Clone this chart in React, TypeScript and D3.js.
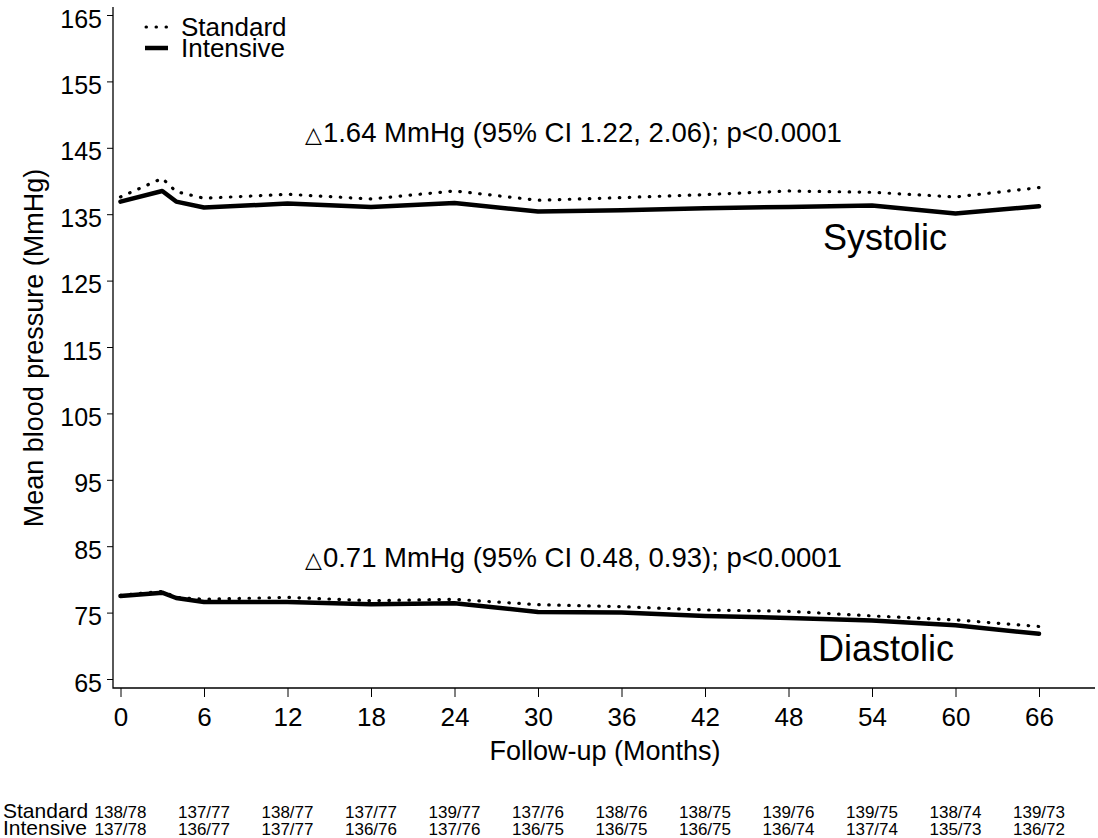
import React, { useRef, useEffect } from 'react';
import * as d3 from 'd3';

// follow-up visits (months) and model-estimated means
const months = [0, 3, 4, 6, 12, 18, 24, 30, 36, 42, 48, 54, 60, 66];
const sbpStandard = [137.6, 140.4, 138.4, 137.4, 138.0, 137.3, 138.5, 137.1, 137.5, 137.95, 138.5, 138.3, 137.6, 139.0];
const sbpIntensive = [136.9, 138.5, 136.9, 136.0, 136.6, 136.1, 136.7, 135.4, 135.6, 135.9, 136.1, 136.3, 135.1, 136.2];
const dbpStandard = [77.6, 78.2, 77.3, 77.0, 77.3, 76.8, 77.0, 76.2, 75.9, 75.4, 75.2, 74.5, 73.9, 72.9];
const dbpIntensive = [77.5, 78.0, 77.2, 76.6, 76.6, 76.25, 76.4, 75.1, 75.0, 74.5, 74.2, 73.8, 73.1, 71.8];

const xTicks = [0, 6, 12, 18, 24, 30, 36, 42, 48, 54, 60, 66];
const yTicks = [65, 75, 85, 95, 105, 115, 125, 135, 145, 155, 165];

// table under the axis
const tableMonths = [0, 6, 12, 18, 24, 30, 36, 42, 48, 54, 60, 66];
const standardTable = ['138/78', '137/77', '138/77', '137/77', '139/77', '137/76', '138/76', '138/75', '139/76', '139/75', '138/74', '139/73'];
const intensiveTable = ['137/78', '136/77', '137/77', '136/76', '137/76', '136/75', '136/75', '136/75', '136/74', '137/74', '135/73', '136/72'];

const FONT = '"Liberation Sans", Arial, Helvetica, sans-serif';

const App = () => {
  const ref = useRef<SVGSVGElement | null>(null);

  useEffect(() => {
    document.body.style.margin = '0';
    if (!ref.current) return;
    const svg = d3.select(ref.current);
    svg.selectAll('*').remove();

    const left = 113, right = 1095, top = 7, bottom = 688;

    const x = d3.scaleLinear().domain([0, 66]).range([120.5, 1039]);
    const y = d3.scaleLinear().domain([65, 165]).range([679, 15]);

    const g = svg.append('g').attr('font-family', FONT);

    // y axis
    const yAxis = g.append('g')
      .attr('transform', `translate(${left},0)`)
      .call(d3.axisLeft(y).tickValues(yTicks).tickSize(6).tickPadding(5).tickFormat(d3.format('d')));
    yAxis.select('.domain').remove();
    yAxis.selectAll('text').attr('font-size', 25).attr('font-family', FONT).attr('dy', '0.48em').attr('fill', '#000');
    yAxis.selectAll('line').attr('stroke', '#000');

    // x axis
    const xAxis = g.append('g')
      .attr('transform', `translate(0,${bottom})`)
      .call(d3.axisBottom(x).tickValues(xTicks).tickSize(9).tickPadding(11).tickFormat(d3.format('d')));
    xAxis.select('.domain').remove();
    xAxis.selectAll('text').attr('font-size', 26).attr('font-family', FONT).attr('fill', '#000');
    xAxis.selectAll('line').attr('stroke', '#000');

    // frame lines (L shape)
    g.append('path')
      .attr('d', `M${left},${top}V${bottom}H${right}`)
      .attr('fill', 'none')
      .attr('stroke', '#000')
      .attr('stroke-width', 1.3);

    const line = d3.line<number>()
      .x((_, i) => x(months[i]))
      .y(d => y(d));

    const drawSeries = (vals: number[], dotted: boolean) => {
      const p = g.append('path')
        .attr('d', line(vals))
        .attr('fill', 'none')
        .attr('stroke', '#000')
        .attr('stroke-linejoin', 'round');
      if (dotted) {
        p.attr('stroke-width', 3.2).attr('stroke-linecap', 'round').attr('stroke-dasharray', '0.5 9.5');
      } else {
        p.attr('stroke-width', 4.5).attr('stroke-linecap', 'round');
      }
    };
    drawSeries(sbpStandard, true);
    drawSeries(sbpIntensive, false);
    drawSeries(dbpStandard, true);
    drawSeries(dbpIntensive, false);

    // legend
    g.append('line').attr('x1', 146).attr('x2', 170).attr('y1', 27).attr('y2', 27)
      .attr('stroke', '#000').attr('stroke-width', 3).attr('stroke-linecap', 'round').attr('stroke-dasharray', '0.5 9.5');
    g.append('line').attr('x1', 145).attr('x2', 168).attr('y1', 48).attr('y2', 48)
      .attr('stroke', '#000').attr('stroke-width', 4.5);
    g.append('text').attr('x', 181).attr('y', 36).attr('font-size', 26).text('Standard');
    g.append('text').attr('x', 181).attr('y', 57).attr('font-size', 26).text('Intensive');

    // annotations
    const note = (yy: number, txt: string) => {
      const t = g.append('text').attr('x', 305).attr('y', yy).attr('font-size', 27.5);
      t.append('tspan').attr('font-family', '"DejaVu Sans", sans-serif').attr('font-size', 22).text('\u25B3');
      t.append('tspan').attr('dx', 1).text(txt);
    };
    note(142, '1.64 MmHg (95% CI 1.22, 2.06); p<0.0001');
    note(567, '0.71 MmHg (95% CI 0.48, 0.93); p<0.0001');

    g.append('text').attr('x', 885).attr('y', 250).attr('font-size', 36).attr('text-anchor', 'middle').text('Systolic');
    g.append('text').attr('x', 886).attr('y', 661).attr('font-size', 36).attr('text-anchor', 'middle').text('Diastolic');

    // axis titles
    g.append('text').attr('x', 605).attr('y', 760).attr('font-size', 27).attr('text-anchor', 'middle')
      .text('Follow-up (Months)');
    g.append('text').attr('transform', 'translate(43,348) rotate(-90)').attr('font-size', 27)
      .attr('text-anchor', 'middle').text('Mean blood pressure (MmHg)');

    // numbers table
    g.append('text').attr('x', 3).attr('y', 818).attr('font-size', 21).text('Standard');
    g.append('text').attr('x', 3).attr('y', 835).attr('font-size', 21).text('Intensive');
    g.selectAll('.tstd').data(standardTable).enter().append('text')
      .attr('x', (_, i) => x(tableMonths[i])).attr('y', 818)
      .attr('font-size', 17).attr('text-anchor', 'middle').text(d => d);
    g.selectAll('.tint').data(intensiveTable).enter().append('text')
      .attr('x', (_, i) => x(tableMonths[i])).attr('y', 835)
      .attr('font-size', 17).attr('text-anchor', 'middle').text(d => d);
  }, []);

  return <svg ref={ref} width={1098} height={838} style={{ display: 'block', background: '#fff' }} />;
};

export default App;
